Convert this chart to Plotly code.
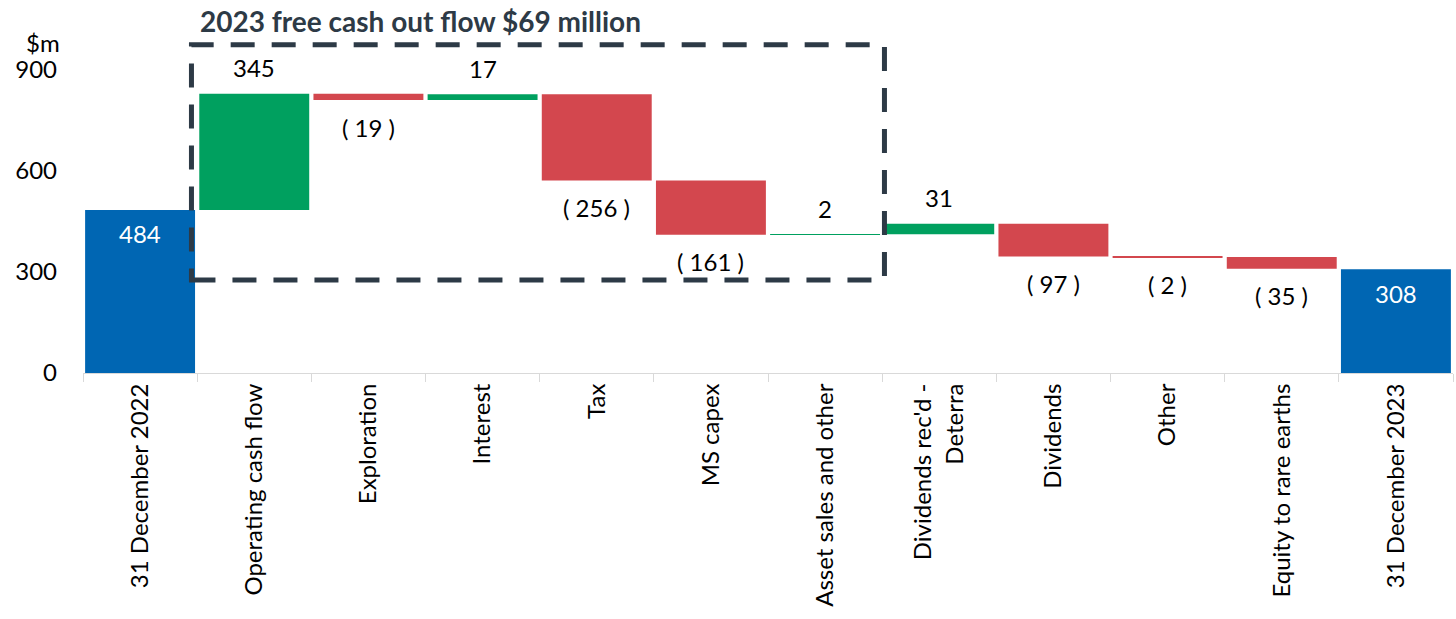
import plotly.graph_objects as go

# Cash flow bridge, $m
categories = ['31 December 2022', 'Operating cash flow', 'Exploration', 'Interest', 'Tax',
              'MS capex', 'Asset sales and other', "Dividends rec'd -<br>Deterra", 'Dividends',
              'Other', 'Equity to rare earths', '31 December 2023']
opening = 484
changes = [345, -19, 17, -256, -161, 2, 31, -97, -2, -35]
closing = 308
y_ticks = [0, 300, 600, 900]

BLUE = '#0066B3'
GREEN = '#00A05F'
RED = '#D3474E'
DARK = '#2D3A46'
FONT = 'Lato'
SIZE = 24

# build bases for the floating bars
bases = [0]
values = [opening]
running = opening
for c in changes:
    bases.append(running)
    values.append(c)
    running += c
bases.append(0)
values.append(closing)

colors = [BLUE] + [GREEN if c > 0 else RED for c in changes] + [BLUE]

fig = go.Figure(go.Bar(
    x=categories,
    y=values,
    base=bases,
    marker=dict(color=colors, line=dict(width=0)),
    hoverinfo='skip',
))

# value labels
for i, (cat, b, v) in enumerate(zip(categories, bases, values)):
    if i == 0 or i == len(categories) - 1:
        fig.add_annotation(x=cat, y=b + v, text=str(v), showarrow=False,
                           yshift=-24, font=dict(color='white', size=SIZE, family=FONT))
    elif v > 0:
        fig.add_annotation(x=cat, y=b + v, text=str(v), showarrow=False,
                           yshift=26, font=dict(color='black', size=SIZE, family=FONT))
    else:
        fig.add_annotation(x=cat, y=b + v, text=f'( {abs(v)} )', showarrow=False,
                           yshift=-27, font=dict(color='black', size=SIZE, family=FONT))

# free cash flow box
fig.add_shape(type='rect', x0=0.45, x1=6.52, y0=276, y1=974, xref='x', yref='y',
              line=dict(color=DARK, width=5, dash='24px,17px'))

fig.add_annotation(x=0.52, y=1.045, xref='x', yref='paper', xanchor='left', yanchor='middle',
                   text='<b>2023 free cash out flow $69 million</b>', showarrow=False,
                   borderpad=0, font=dict(color=DARK, size=28, family=FONT))
fig.add_annotation(x=-0.029, y=0.982, xref='paper', yref='paper', xanchor='center',
                   yanchor='middle', text='$m', showarrow=False,
                   font=dict(color='black', size=SIZE, family=FONT))

fig.update_layout(
    width=1456, height=619,
    margin=dict(l=83, r=3, t=36, b=246),
    plot_bgcolor='white', paper_bgcolor='white',
    bargap=0.037,
    showlegend=False,
    font=dict(family=FONT, color='black', size=SIZE),
)
fig.update_xaxes(
    range=[-0.5, 11.5], tickangle=-90, showline=True, linecolor='#D9D9D9', linewidth=1,
    ticks='outside', tickson='boundaries', ticklen=8, tickcolor='#D9D9D9',
    showgrid=False, tickfont=dict(size=SIZE, family=FONT, color='black'),
)
fig.update_yaxes(
    range=[0, 1000], tickvals=y_ticks, showgrid=False, zeroline=False, showline=False,
    ticklabelstandoff=25, tickfont=dict(size=SIZE, family=FONT, color='black'),
)

# drop the browser's default body margin so the figure fills the window exactly
fig.write_html('out.html', config={'displayModeBar': False},
               post_script="document.body.style.margin='0';")
